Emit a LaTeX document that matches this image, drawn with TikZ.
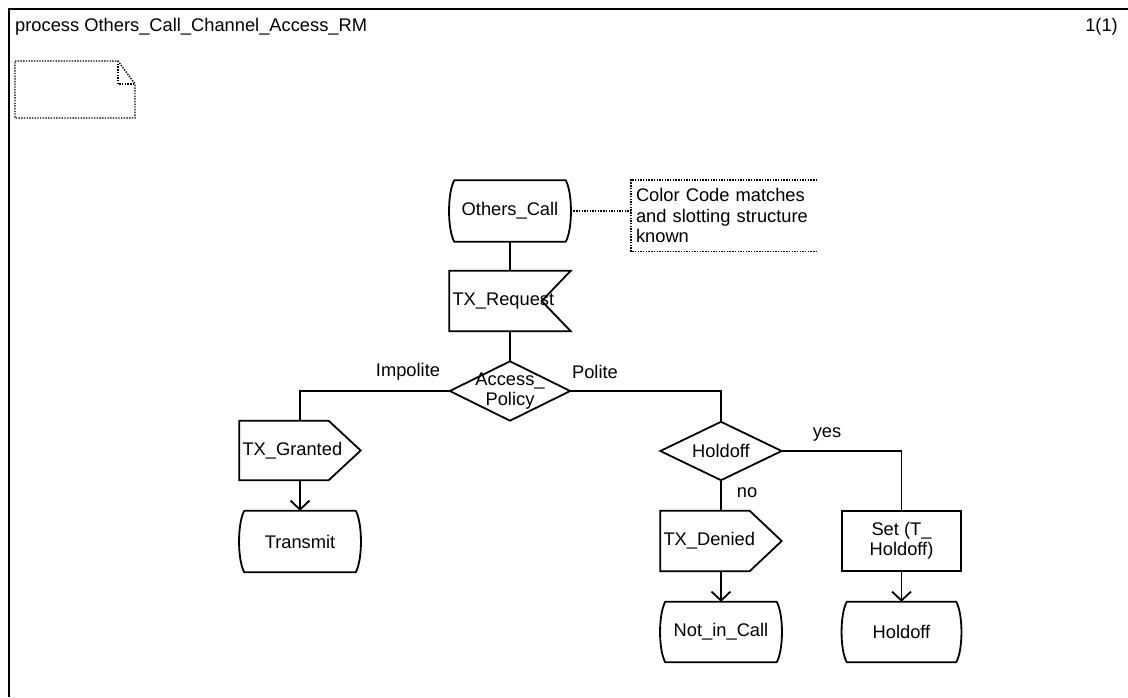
\documentclass[tikz,border=0pt]{standalone}
\usepackage{fontspec}
\setmainfont{Liberation Sans}
\usepackage{tikz}
\usetikzlibrary{arrows.meta,positioning,calc}
\tikzset{
  sdlline/.style={line width=1.8pt, line join=miter},
  sdlnote/.style={line width=1.4pt, dash pattern=on 1.4pt off 1.3pt},
  sdlnode/.style={inner sep=0pt, align=center, font=\fontsize{18.3}{20.5}\selectfont},
  statebox/.style={sdlnode, minimum width=121pt, minimum height=61pt},
  sigbox/.style={sdlnode, text width=115pt, inner xsep=3pt, align=left, minimum height=60pt},
  decbox/.style={sdlnode, minimum width=120pt, minimum height=59pt},
  taskbox/.style={sdlnode, draw, sdlline, minimum width=119pt, minimum height=60pt},
  lbl/.style={inner sep=0pt, font=\fontsize{18.3}{20.5}\selectfont},
  arr/.style={sdlline, -{Straight Barb[length=9pt,width=19pt]}},
}
% outlines of the SDL symbols, drawn round a named node
\newcommand{\stateoutline}[1]{%
  \draw[sdlline] ([xshift=5pt]#1.north west) -- ([xshift=-5pt]#1.north east)
    .. controls +(7pt,-12pt) and +(7pt,12pt) .. ([xshift=-5pt]#1.south east)
    -- ([xshift=5pt]#1.south west)
    .. controls +(-7pt,12pt) and +(-7pt,-12pt) .. cycle;}
\newcommand{\inoutline}[1]{%
  \draw[sdlline] (#1.north west) -- (#1.north east) -- ([xshift=-29pt]#1.east)
    -- (#1.south east) -- (#1.south west) -- cycle;}
\newcommand{\outoutline}[1]{%
  \draw[sdlline] (#1.north west) -- ([xshift=-32pt]#1.north east) -- (#1.east)
    -- ([xshift=-32pt]#1.south east) -- (#1.south west) -- cycle;}
\newcommand{\decoutline}[1]{%
  \draw[sdlline] (#1.north) -- (#1.east) -- (#1.south) -- (#1.west) -- cycle;}

\begin{document}
\begin{tikzpicture}[x=1pt,y=-1pt]
  \useasboundingbox (0,0) rectangle (1128,697);
  % frame and heading
  \draw[line width=2.2pt] (1128,9) -- (9,9) -- (9,697);
  \node[lbl, anchor=west] (title) at (15,27) {process Others\_Call\_Channel\_Access\_RM};
  \node[lbl, anchor=east] (page) at (1118,27) {1(1)};
  % text symbol
  \draw[sdlnote] (15,61) -- (118,61) -- (135,84) -- (135,118) -- (15,118) -- cycle;
  \draw[sdlnote] (118,61) -- (118,84) -- (135,84);

  \node[statebox] (others) at (510,211) {Others\_Call};
  \node[sdlnode, text width=176pt, align=left, inner xsep=5pt, minimum height=71pt]
    (remark) at (724,215.5) {Color Code matches\\and slotting structure\\known};
  \node[sigbox] (txreq) at (510,301) {TX\_Request};
  \node[decbox] (policy) at (510,391) {Access\_\\Policy};
  \node[sigbox, minimum height=59pt] (txgr) at (300,450.5) {TX\_Granted};
  \node[statebox] (transmit) at (300,541.5) {Transmit};
  \node[decbox, minimum width=121pt, minimum height=58pt] (holdq) at (721,451) {Holdoff};
  \node[sigbox] (txden) at (721,541) {TX\_Denied};
  \node[statebox, minimum height=60pt] (notin) at (721,632) {Not\_in\_Call};
  \node[taskbox] (settimer) at (901.5,541) {Set (T\_\\Holdoff)};
  \node[statebox, minimum width=119pt, minimum height=60pt] (holdst) at (901.5,632) {Holdoff};

  \stateoutline{others}
  \stateoutline{transmit}
  \stateoutline{notin}
  \stateoutline{holdst}
  \inoutline{txreq}
  \outoutline{txgr}
  \outoutline{txden}
  \decoutline{policy}
  \decoutline{holdq}
  \draw[sdlnote] (remark.north east) -- (remark.north west) -- (remark.south west) -- (remark.south east);
  \draw[sdlnote] (others.east) -- (others.east -| remark.west);

  \node[lbl] (impolite) at (408,372) {Impolite};
  \node[lbl] (polite) at (595,372) {Polite};
  \node[lbl] (yes) at (827,434) {yes};
  \node[lbl] (no) at (747,493) {no};

  \draw[sdlline] (others) -- (txreq);
  \draw[sdlline] (txreq) -- (policy);
  \draw[sdlline] (policy.west) -| (txgr.north);
  \draw[sdlline] (policy.east) -| (holdq.north);
  \draw[sdlline] (holdq.east) -| (settimer.north);
  \draw[sdlline] (holdq) -- (txden);
  \draw[arr] (txgr) -- (transmit);
  \draw[arr] (txden) -- (notin);
  \draw[arr] (settimer) -- (holdst);
\end{tikzpicture}
\end{document}
